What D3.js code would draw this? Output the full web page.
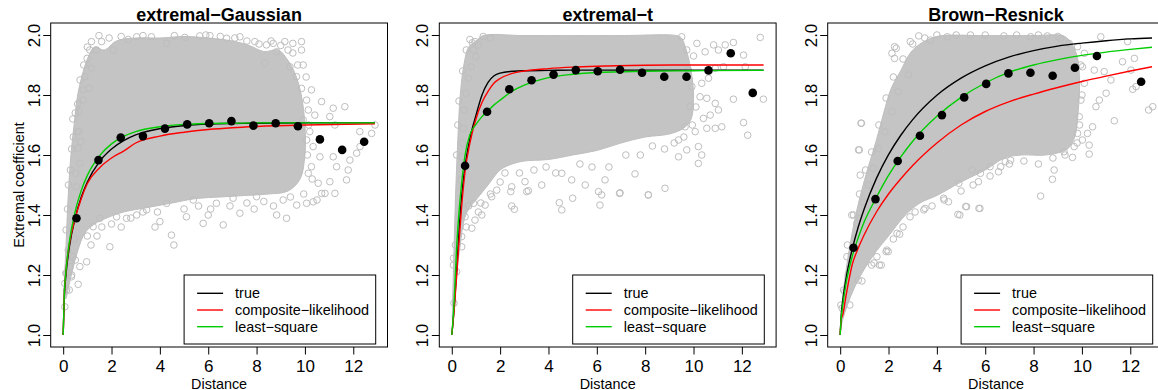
<!DOCTYPE html>
<html>
<head>
<meta charset="utf-8">
<script src="https://cdn.jsdelivr.net/npm/d3@7"></script>
<style>
  body { margin: 0; background: #fff; }
  svg { display: block; }
  text { font-family: "Liberation Sans", Arial, Helvetica, sans-serif; fill: #000; }
</style>
</head>
<body>
<svg id="chart" width="1158" height="390"></svg>
<script>
// Labels and ticks
const titles = ["extremal−Gaussian", "extremal−t", "Brown−Resnick"];
const xTicks = [0, 2, 4, 6, 8, 10, 12];
const yTicks = [1.0, 1.2, 1.4, 1.6, 1.8, 2.0];
const legendLabels = ["true", "composite−likelihood", "least−square"];

// Binned estimates (black dots), same distance classes in every panel
const binDist = [0.55, 1.46, 2.38, 3.3, 4.21, 5.13, 6.04, 6.96, 7.87, 8.79, 9.71, 10.62, 11.54, 12.45];
const gaussBins = [1.389, 1.583, 1.658, 1.663, 1.688, 1.702, 1.706, 1.713, 1.698, 1.706, 1.696, 1.652, 1.617, 1.644];
const tBins = [1.564, 1.744, 1.819, 1.849, 1.868, 1.883, 1.879, 1.884, 1.874, 1.861, 1.861, 1.882, 1.939, 1.807];
const brBins = [1.291, 1.453, 1.58, 1.664, 1.733, 1.792, 1.837, 1.872, 1.874, 1.864, 1.891, 1.93, null, 1.844];

// Extremal coefficient curves: true / composite-likelihood / least-square
const gaussCurveDist = [0, 0.05, 0.1, 0.25, 0.5, 0.75, 1, 1.5, 2, 2.5, 3, 4, 5, 6, 7, 8, 10, 12.9];
const gaussTrue = [1, 1.134, 1.188, 1.29, 1.392, 1.46, 1.51, 1.578, 1.62, 1.648, 1.667, 1.688, 1.698, 1.703, 1.705, 1.706, 1.707, 1.707];
const gaussCL = [1, 1.14, 1.2, 1.3, 1.39, 1.455, 1.505, 1.557, 1.59, 1.613, 1.64, 1.663, 1.676, 1.685, 1.691, 1.695, 1.7, 1.704];
const gaussLS = [1, 1.143, 1.2, 1.307, 1.413, 1.482, 1.532, 1.597, 1.637, 1.662, 1.678, 1.694, 1.702, 1.705, 1.706, 1.707, 1.707, 1.707];

const tCurveDist = [0, 0.05, 0.1, 0.15, 0.2, 0.3, 0.4, 0.55, 0.75, 1, 1.25, 1.5, 1.75, 2, 2.5, 3, 4, 5, 6, 8, 10, 12.9];
const tTrue = [1, 1.04, 1.09, 1.15, 1.21, 1.345, 1.455, 1.563, 1.655, 1.732, 1.8, 1.842, 1.864, 1.873, 1.879, 1.881, 1.882, 1.883, 1.883, 1.883, 1.883, 1.883];
const tCL = [1, 1.04, 1.085, 1.14, 1.195, 1.31, 1.42, 1.545, 1.64, 1.72, 1.775, 1.812, 1.84, 1.855, 1.872, 1.88, 1.888, 1.893, 1.896, 1.899, 1.9, 1.9];
const tLS = [1, 1.05, 1.115, 1.205, 1.29, 1.41, 1.5, 1.6, 1.668, 1.702, 1.728, 1.748, 1.767, 1.783, 1.813, 1.833, 1.858, 1.869, 1.875, 1.879, 1.881, 1.882];

const brCurveDist = [0, 0.05, 0.1, 0.25, 0.5, 0.75, 1, 1.5, 2, 2.5, 3, 4, 5, 6, 7, 8, 9, 10, 11, 12, 12.9];
const brTrue = [1, 1.074, 1.111, 1.192, 1.287, 1.361, 1.422, 1.522, 1.601, 1.665, 1.718, 1.799, 1.856, 1.897, 1.927, 1.948, 1.963, 1.973, 1.981, 1.987, 1.99];
const brCL = [1, 1.055, 1.065, 1.135, 1.235, 1.29, 1.335, 1.41, 1.47, 1.52, 1.565, 1.64, 1.7, 1.745, 1.778, 1.803, 1.825, 1.845, 1.863, 1.88, 1.894];
const brLS = [1, 1.063, 1.096, 1.175, 1.262, 1.325, 1.378, 1.459, 1.532, 1.593, 1.646, 1.729, 1.792, 1.84, 1.876, 1.9, 1.918, 1.932, 1.943, 1.952, 1.959];

// Outline of the dense part of the pairwise cloud (distance, coefficient), traced clockwise
const gaussOutlineDist = [0.05, 0.12, 0.2, 0.3, 0.45, 0.6, 0.8, 1.0, 1.3, 1.7, 2.2, 3, 4, 5, 6, 7, 7.7, 8.3, 8.9, 9.3, 9.6, 9.85, 10.0,
  10.0, 9.8, 9.3, 8.5, 7.5, 6.5, 5.5, 4.5, 3.5, 2.5, 1.8, 1.3, 0.9, 0.6, 0.4, 0.25, 0.1];
const gaussOutlineVal = [1.15, 1.3, 1.45, 1.58, 1.7, 1.8, 1.87, 1.92, 1.96, 1.95, 1.98, 1.99, 1.99, 1.995, 1.99, 1.98, 1.965, 1.945, 1.95, 1.915, 1.87, 1.8, 1.7,
  1.6, 1.52, 1.48, 1.47, 1.465, 1.46, 1.455, 1.44, 1.425, 1.41, 1.39, 1.37, 1.34, 1.28, 1.22, 1.17, 1.12];

const tOutlineDist = [0.03, 0.08, 0.15, 0.25, 0.35, 0.5, 0.7, 1.0, 1.3, 3, 5, 7, 9.3, 9.5, 9.7, 9.9, 10.0,
  9.9, 9.6, 9.0, 8.0, 7.0, 6.0, 5.0, 4.0, 3.0, 2.5, 2.0, 1.5, 1.0, 0.7, 0.5, 0.35, 0.2, 0.1];
const tOutlineVal = [1.05, 1.25, 1.45, 1.65, 1.8, 1.9, 1.96, 1.98, 1.998, 1.998, 1.998, 1.998, 1.998, 1.99, 1.95, 1.88, 1.8,
  1.72, 1.69, 1.67, 1.66, 1.64, 1.615, 1.6, 1.585, 1.58, 1.57, 1.55, 1.5, 1.45, 1.42, 1.38, 1.3, 1.2, 1.1];

const brOutlineDist = [0.02, 0.1, 0.25, 0.45, 0.7, 0.95, 1.2, 1.5, 1.8, 2.1, 2.5, 2.9, 3.3, 3.8, 4.2, 6, 8, 9.2, 9.5, 9.8, 9.9,
  9.85, 9.7, 9.4, 8.5, 7.5, 6.8, 6.0, 5.0, 4.0, 3.3, 2.7, 2.0, 1.5, 1.0, 0.6, 0.3, 0.1];
const brOutlineVal = [1.02, 1.12, 1.22, 1.32, 1.42, 1.5, 1.57, 1.65, 1.74, 1.82, 1.88, 1.94, 1.97, 1.99, 1.998, 1.998, 1.998, 1.998, 1.98, 1.93, 1.85,
  1.75, 1.66, 1.62, 1.6, 1.6, 1.59, 1.55, 1.51, 1.465, 1.44, 1.4, 1.33, 1.28, 1.22, 1.16, 1.1, 1.05];

// Individual points visible around the dense part
const gaussPoints = [
  [1.17, 1.978], [1.48, 1.998], [1.59, 1.978], [0.65, 1.744], [0.73, 1.645], [0.83, 1.783], [1.08, 1.822],
  [0.66, 1.678], [0.69, 1.572], [1.17, 1.889], [3.04, 1.994], [6.07, 1.998], [7.31, 1.994], [8.69, 1.972],
  [9.5, 1.972], [9.86, 1.978], [9.86, 1.95], [9.5, 1.94], [9.93, 1.9], [10.27, 1.817], [10.69, 1.778],
  [11.17, 1.756], [11.65, 1.761], [11.24, 1.7], [11.03, 1.728], [12.27, 1.678], [12.9, 1.7], [12.76, 1.672],
  [10.34, 1.628], [10.62, 1.594], [11.17, 1.594], [11.31, 1.561], [11.86, 1.583], [11.79, 1.55], [12.14, 1.606],
  [12.28, 1.628], [10.27, 1.561], [10.55, 1.506], [11.03, 1.511], [11.72, 1.517], [10.69, 1.472], [10.14, 1.539],
  [1.93, 1.294], [4.48, 1.333], [4.58, 1.3], [4.0, 1.378], [1.52, 1.389], [0.97, 1.244], [0.62, 1.169],
  [0.69, 1.228], [0.14, 1.206], [0.21, 1.283], [5.79, 1.372], [6.62, 1.367], [7.31, 1.406], [8.83, 1.4],
  [9.24, 1.389], [10.34, 1.444], [9.66, 1.433], [10.83, 1.472], [11.24, 1.472], [3.04, 1.4], [2.62, 1.389],
  [5.1, 1.394], [2.07, 1.95], [2.69, 1.985], [3.65, 1.994], [4.28, 1.972], [5.03, 1.992], [5.65, 1.997],
  [6.76, 1.989], [7.93, 1.978], [8.41, 1.967], [9.17, 1.978], [8.83, 1.944], [8.34, 1.906], [9.38, 1.894],
  [9.65, 1.861], [9.86, 1.822], [10.07, 1.783], [10.14, 1.75], [9.93, 1.717], [10.41, 1.733], [10.2, 1.678],
  [10.07, 1.65], [1.1, 1.95], [0.99, 1.922], [1.38, 1.95], [0.9, 1.861], [0.83, 1.817], [0.58, 1.678],
  [0.62, 1.622], [0.52, 1.539], [0.55, 1.494], [1.24, 1.361], [2.21, 1.394], [3.45, 1.417], [4.28, 1.439],
  [5.38, 1.45], [6.34, 1.439], [7.03, 1.456], [8.0, 1.461], [9.1, 1.45], [10.07, 1.439], [0.41, 1.261],
  [0.34, 1.194], [0.14, 1.15], [0.07, 1.094], [0.07, 1.172], [0.11, 1.206], [0.28, 1.228],
  [1.9, 1.99], [2.4, 1.995], [3.3, 1.998], [4.6, 1.998], [5.9, 2.0], [6.5, 1.995], [7.1, 1.99], [7.6, 1.98],
  [8.1, 1.97], [8.6, 1.98], [9.0, 1.965], [9.3, 1.95], [9.7, 1.9], [10.05, 1.86], [10.15, 1.7], [10.1, 1.6],
  [10.3, 1.52], [9.95, 1.47], [10.5, 1.45], [1.0, 1.33], [1.6, 1.36], [2.0, 1.37], [2.8, 1.39], [3.3, 1.41],
  [3.9, 1.41], [5.0, 1.42], [5.6, 1.43], [6.1, 1.42], [6.9, 1.43], [7.6, 1.44], [8.3, 1.445], [8.7, 1.43],
  [9.4, 1.46], [0.5, 1.25], [0.35, 1.2], [0.25, 1.15], [0.45, 1.32], [1.15, 1.3], [1.4, 1.33], [2.4, 1.36],
  [3.8, 1.36], [6.0, 1.4], [7.9, 1.42], [0.12, 1.35], [0.18, 1.42], [0.22, 1.5], [0.3, 1.55], [0.35, 1.62],
  [0.42, 1.66], [0.5, 1.74], [0.6, 1.77], [0.7, 1.85], [0.85, 1.9], [1.0, 1.96], [0.4, 1.72]
];
const tPoints = [
  [0.96, 1.978], [0.9, 1.95], [12.76, 1.992], [11.65, 1.975], [11.31, 1.967], [10.83, 1.967], [11.03, 1.95],
  [10.48, 1.944], [10.14, 1.972], [12.07, 1.933], [12.14, 1.894], [11.24, 1.894], [10.9, 1.889], [10.62, 1.856],
  [10.34, 1.839], [10.27, 1.794], [10.55, 1.789], [10.9, 1.772], [11.03, 1.75], [10.69, 1.733], [11.17, 1.694],
  [10.9, 1.689], [10.55, 1.689], [11.65, 1.786], [12.89, 1.786], [12.07, 1.708], [12.24, 1.666], [10.41, 1.722],
  [10.07, 1.678], [10.2, 1.628], [10.34, 1.6], [10.2, 1.572], [9.72, 1.617], [9.38, 1.594], [8.82, 1.489],
  [8.13, 1.467], [7.58, 1.537], [6.96, 1.474], [6.34, 1.517], [6.07, 1.478], [5.52, 1.5], [4.96, 1.517],
  [4.55, 1.539], [3.72, 1.5], [3.03, 1.511], [2.48, 1.494], [3.17, 1.481], [2.44, 1.478], [2.48, 1.43],
  [2.59, 1.419], [3.1, 1.478], [4.45, 1.441], [4.55, 1.417], [5.0, 1.456], [6.13, 1.433], [6.2, 1.467],
  [6.94, 1.472], [8.13, 1.467], [0.09, 1.106], [0.07, 1.233], [0.2, 1.211], [0.07, 1.256], [0.41, 1.294],
  [0.41, 1.328], [0.83, 1.356], [0.55, 1.394], [0.96, 1.383], [1.24, 1.4], [1.38, 1.433], [0.9, 1.439],
  [1.86, 1.483], [1.65, 1.461], [0.85, 1.974], [1.1, 1.967], [0.99, 1.928], [0.8, 1.894], [0.69, 1.856],
  [0.58, 1.806], [0.51, 1.75], [0.48, 1.689], [0.45, 1.639], [0.41, 1.594], [0.38, 1.517], [9.51, 1.994],
  [9.72, 1.95], [9.79, 1.883], [9.93, 1.828], [9.86, 1.761], [9.65, 1.694], [9.38, 1.65],
  [0.2, 1.6], [0.25, 1.7], [0.3, 1.78], [0.45, 1.88], [0.6, 1.95], [0.75, 1.985], [1.3, 1.995], [1.6, 1.99],
  [1.2, 1.44], [1.6, 1.47], [2.0, 1.51], [2.2, 1.54], [2.8, 1.54], [3.4, 1.55], [3.9, 1.56], [4.3, 1.54],
  [5.3, 1.57], [5.8, 1.56], [6.5, 1.56], [7.2, 1.6], [7.8, 1.6], [8.3, 1.63], [8.8, 1.62], [9.2, 1.64],
  [9.6, 1.66], [10.0, 1.93], [10.1, 1.76], [9.95, 1.7], [0.15, 1.3], [0.25, 1.35], [0.3, 1.4], [0.5, 1.42],
  [0.7, 1.43], [0.6, 1.36], [1.1, 1.41]
];
const brPoints = [
  [2.25, 1.961], [2.14, 1.939], [2.9, 1.978], [0.86, 1.706], [0.76, 1.617], [0.83, 1.533], [10.78, 1.994],
  [11.89, 1.978], [11.68, 1.911], [12.17, 1.922], [12.03, 1.883], [12.24, 1.828], [12.1, 1.819], [12.93, 1.761],
  [12.76, 1.75], [11.34, 1.714], [10.51, 1.883], [10.92, 1.878], [11.2, 1.85], [11.0, 1.806], [10.72, 1.783],
  [10.58, 1.761], [10.44, 1.694], [10.23, 1.672], [10.3, 1.633], [10.3, 1.603], [10.02, 1.65], [9.61, 1.592],
  [9.26, 1.611], [8.85, 1.55], [8.78, 1.519], [8.29, 1.463], [7.05, 1.583], [6.64, 1.561], [6.2, 1.561],
  [5.8, 1.539], [5.46, 1.55], [4.91, 1.506], [5.74, 1.422], [5.19, 1.428], [4.87, 1.402], [4.28, 1.456],
  [3.46, 1.417], [2.35, 1.339], [1.93, 1.283], [1.62, 1.233], [1.52, 1.261], [0.48, 1.4], [0.69, 1.372],
  [0.03, 1.1], [0.14, 1.15], [0.28, 1.261], [0.88, 1.706], [0.79, 1.617], [2.32, 1.956], [2.25, 1.922],
  [1.7, 1.233], [2.46, 1.336], [5.78, 1.422], [5.23, 1.428], [4.95, 1.4], [1.9, 1.278], [3.25, 1.997],
  [3.73, 1.983], [4.43, 1.994], [5.39, 2.0], [6.77, 1.997], [7.88, 1.994], [8.57, 1.997], [9.12, 1.989],
  [9.47, 1.972], [9.82, 1.961], [10.1, 1.939], [10.02, 1.894], [10.1, 1.839], [9.96, 1.783], [9.89, 1.728],
  [9.82, 1.672], [9.68, 1.628], [2.82, 1.867], [2.41, 1.811], [2.13, 1.744], [1.85, 1.678], [1.58, 1.622],
  [1.37, 1.556], [1.16, 1.5], [0.95, 1.444], [0.82, 1.389], [0.61, 1.322], [0.47, 1.267], [0.33, 1.2],
  [0.19, 1.144], [0.08, 1.089], [0.75, 1.183], [1.3, 1.233], [1.99, 1.278], [2.89, 1.394], [3.51, 1.422],
  [4.48, 1.444], [5.72, 1.511], [6.55, 1.544], [6.83, 1.578],
  [0.3, 1.3], [0.55, 1.4], [0.8, 1.47], [1.05, 1.55], [1.3, 1.61], [1.6, 1.7], [1.9, 1.79], [2.2, 1.86],
  [2.6, 1.92], [3.0, 1.97], [3.5, 1.99], [4.0, 2.0], [4.8, 2.0], [6.0, 2.0], [7.3, 2.0], [8.2, 2.0], [9.0, 1.995],
  [9.95, 1.9], [10.0, 1.8], [9.9, 1.7], [9.8, 1.64], [0.4, 1.1], [0.9, 1.18], [1.4, 1.24], [2.2, 1.32],
  [2.6, 1.36], [3.1, 1.41], [3.8, 1.43], [4.3, 1.45], [5.0, 1.48], [5.5, 1.5], [6.2, 1.53], [7.0, 1.57],
  [7.6, 1.58], [8.2, 1.57], [8.8, 1.59], [9.3, 1.6]
];

const panels = [
  { title: titles[0], bins: gaussBins, curveDist: gaussCurveDist, fits: [gaussTrue, gaussCL, gaussLS],
    outline: gaussOutlineDist.map((d, k) => [d, gaussOutlineVal[k]]), points: gaussPoints },
  { title: titles[1], bins: tBins, curveDist: tCurveDist, fits: [tTrue, tCL, tLS],
    outline: tOutlineDist.map((d, k) => [d, tOutlineVal[k]]), points: tPoints },
  { title: titles[2], bins: brBins, curveDist: brCurveDist, fits: [brTrue, brCL, brLS],
    outline: brOutlineDist.map((d, k) => [d, brOutlineVal[k]]), points: brPoints }
];

const fitColors = ["#000000", "#ff0000", "#00cd00"];
const cloudColor = "#bebebe";

const svg = d3.select("#chart");
const defs = svg.append("defs");

// Panel geometry
const panelLeft = [50.7, 439.3, 827.7];
const plotW = 336.8, plotTop = 23, plotBottom = 347;

panels.forEach(function (p, i) {
  const L = panelLeft[i];
  const x = d3.scaleLinear().domain([-0.516, 13.416]).range([L, L + plotW]);
  const y = d3.scaleLinear().domain([0.96, 2.04]).range([plotBottom, plotTop]);

  defs.append("clipPath").attr("id", "clip" + i)
    .append("rect")
    .attr("x", L).attr("y", plotTop)
    .attr("width", plotW).attr("height", plotBottom - plotTop);

  const g = svg.append("g");
  const plot = g.append("g").attr("clip-path", "url(#clip" + i + ")");

  // Dense cloud
  plot.append("path")
    .datum(p.outline)
    .attr("fill", "#c4c4c4")
    .attr("stroke", cloudColor)
    .attr("stroke-width", 1)
    .attr("d", d3.line()
      .x(d => x(d[0]))
      .y(d => y(d[1]))
      .curve(d3.curveCatmullRomClosed.alpha(0.5)));

  // Scattered points
  plot.selectAll("circle.pt")
    .data(p.points)
    .join("circle")
    .attr("class", "pt")
    .attr("cx", d => x(d[0]))
    .attr("cy", d => y(d[1]))
    .attr("r", 3.3)
    .attr("fill", "none")
    .attr("stroke", cloudColor)
    .attr("stroke-width", 1);

  // Fitted curves
  const line = d3.line()
    .x(d => x(d[0]))
    .y(d => y(d[1]))
    .curve(d3.curveMonotoneX);
  p.fits.forEach(function (vals, k) {
    plot.append("path")
      .datum(p.curveDist.map((d, j) => [d, vals[j]]))
      .attr("fill", "none")
      .attr("stroke", fitColors[k])
      .attr("stroke-width", 1.4)
      .attr("d", line);
  });

  // Binned estimates
  plot.selectAll("circle.bin")
    .data(binDist.map((d, k) => [d, p.bins[k]]).filter(d => d[1] != null))
    .join("circle")
    .attr("class", "bin")
    .attr("cx", d => x(d[0]))
    .attr("cy", d => y(d[1]))
    .attr("r", 4.3)
    .attr("fill", "#000");

  // Box
  g.append("rect")
    .attr("x", L).attr("y", plotTop)
    .attr("width", plotW).attr("height", plotBottom - plotTop)
    .attr("fill", "none").attr("stroke", "#000").attr("stroke-width", 1);

  // X axis
  const xAxis = g.append("g")
    .attr("transform", "translate(0," + plotBottom + ")")
    .call(d3.axisBottom(x).tickValues(xTicks).tickSize(7.5).tickFormat(d3.format("d")));
  xAxis.select(".domain").remove();
  xAxis.selectAll("line").attr("stroke", "#000");
  xAxis.selectAll("text")
    .attr("dy", null).attr("y", 24.5)
    .attr("font-size", 17).attr("font-family", null);

  // Y axis
  const yAxis = g.append("g")
    .attr("transform", "translate(" + L + ",0)")
    .call(d3.axisLeft(y).tickValues(yTicks).tickSize(7.5).tickFormat(d3.format(".1f")));
  yAxis.select(".domain").remove();
  yAxis.selectAll("line").attr("stroke", "#000");
  yAxis.selectAll("text")
    .attr("dy", null).attr("x", 0).attr("y", -11.2)
    .attr("transform", "rotate(-90)")
    .attr("text-anchor", "middle")
    .attr("font-size", 17).attr("font-family", null);

  // Title
  g.append("text")
    .attr("x", L + plotW / 2).attr("y", 20.5)
    .attr("text-anchor", "middle")
    .attr("font-size", 18).attr("font-weight", "bold")
    .text(p.title);

  // X label
  g.append("text")
    .attr("x", L + plotW / 2).attr("y", 388.5)
    .attr("text-anchor", "middle")
    .attr("font-size", 14.4)
    .text("Distance");

  // Legend
  const lg = g.append("g").attr("transform", "translate(" + (L + 133.4) + ",275)");
  lg.append("rect")
    .attr("width", 191.6).attr("height", 69)
    .attr("fill", "#fff").attr("stroke", "#000").attr("stroke-width", 1);
  legendLabels.forEach(function (lab, k) {
    const ry = 18.3 + k * 16.7;
    lg.append("line")
      .attr("x1", 13).attr("x2", 39)
      .attr("y1", ry).attr("y2", ry)
      .attr("stroke", fitColors[k]).attr("stroke-width", 1.4);
    lg.append("text")
      .attr("x", 51).attr("y", ry + 5)
      .attr("font-size", 14.4)
      .text(lab);
  });
});

// Y label, first panel only
svg.append("text")
  .attr("transform", "translate(24," + (plotTop + plotBottom) / 2 + ") rotate(-90)")
  .attr("text-anchor", "middle")
  .attr("font-size", 14.4)
  .text("Extremal coefficient");
</script>
</body>
</html>
